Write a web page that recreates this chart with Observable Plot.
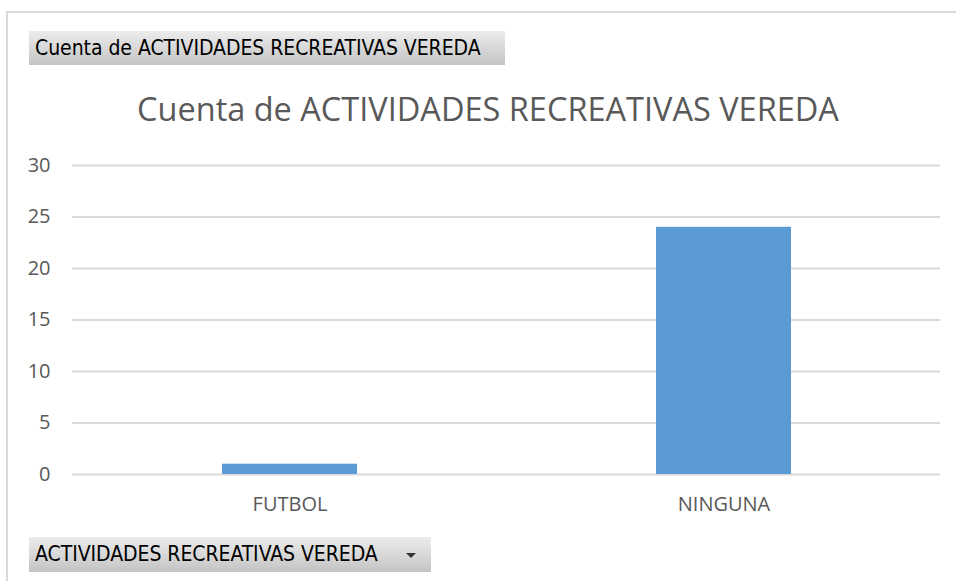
<!DOCTYPE html>
<html>
<head>
<meta charset="utf-8">
<script src="https://cdn.jsdelivr.net/npm/d3@7"></script>
<script src="https://cdn.jsdelivr.net/npm/@observablehq/plot@0.6"></script>
<style>
  html, body { margin: 0; padding: 0; background: #fff; }
  #wrap { position: relative; width: 956px; height: 581px; overflow: hidden; background: #fff; font-family: "Noto Sans", "Open Sans", sans-serif; }
  .bt { position: absolute; left: 6px; top: 11px; width: 950px; height: 2px; background: #d9d9d9; }
  .bl { position: absolute; left: 6px; top: 11px; width: 2px; height: 570px; background: #d9d9d9; }
  .btn { position: absolute; background: linear-gradient(#ececec, #c4c4c4); color: #000; font-family: "DejaVu Sans Condensed", "Liberation Sans Narrow", "Noto Sans", sans-serif; font-size: 21px; line-height: 34px; padding-left: 6px; box-sizing: border-box; white-space: nowrap; letter-spacing: -0.05px; }
  #title { position: absolute; left: 0; width: 976px; top: 86px; text-align: center; color: #595959; font-family: "Open Sans", "Noto Sans", sans-serif; font-size: 32.5px; white-space: nowrap; }
  #chart { position: absolute; left: 0; top: 0; }
  .arrow { position: absolute; width: 0; height: 0; border-left: 5px solid transparent; border-right: 5px solid transparent; border-top: 5px solid #333; }
</style>
</head>
<body>
<div id="wrap">
  <div class="bt"></div>
  <div class="bl"></div>
  <div id="chart"></div>
  <div class="btn" style="left:29px; top:31px; width:476px; height:34px;">Cuenta de ACTIVIDADES RECREATIVAS VEREDA</div>
  <div id="title">Cuenta de ACTIVIDADES RECREATIVAS VEREDA</div>
  <div class="btn" style="left:29px; top:537px; width:402px; height:35px;">ACTIVIDADES RECREATIVAS VEREDA</div>
  <div class="arrow" style="left:406px; top:553px;"></div>
</div>
<script>
const categories = ["FUTBOL", "NINGUNA"];
const counts = [1, 24];
const yTicks = [0, 5, 10, 15, 20, 25, 30];

const data = categories.map((c, i) => ({cat: c, value: counts[i]}));

const chart = Plot.plot({
  width: 956,
  height: 530,
  marginTop: 165,
  marginBottom: 56,
  marginLeft: 72,
  marginRight: 16,
  style: {background: "transparent", fontFamily: "'Open Sans', 'Noto Sans', sans-serif", fontSize: "20px", color: "#595959"},
  x: {domain: categories, paddingInner: 0.689, paddingOuter: 0.3445, label: null},
  y: {domain: [0, 30], label: null},
  marks: [
    Plot.ruleY(yTicks, {stroke: "#d9d9d9", strokeWidth: 2}),
    Plot.barY(data, {x: "cat", y: "value", fill: "#5b9bd5"}),
    Plot.axisY({ticks: yTicks, tickSize: 0, tickPadding: 22, label: null, fill: "#595959"}),
    Plot.axisX({tickSize: 0, tickPadding: 22, label: null, fill: "#595959"})
  ]
});
document.getElementById("chart").appendChild(chart);
</script>
</body>
</html>
